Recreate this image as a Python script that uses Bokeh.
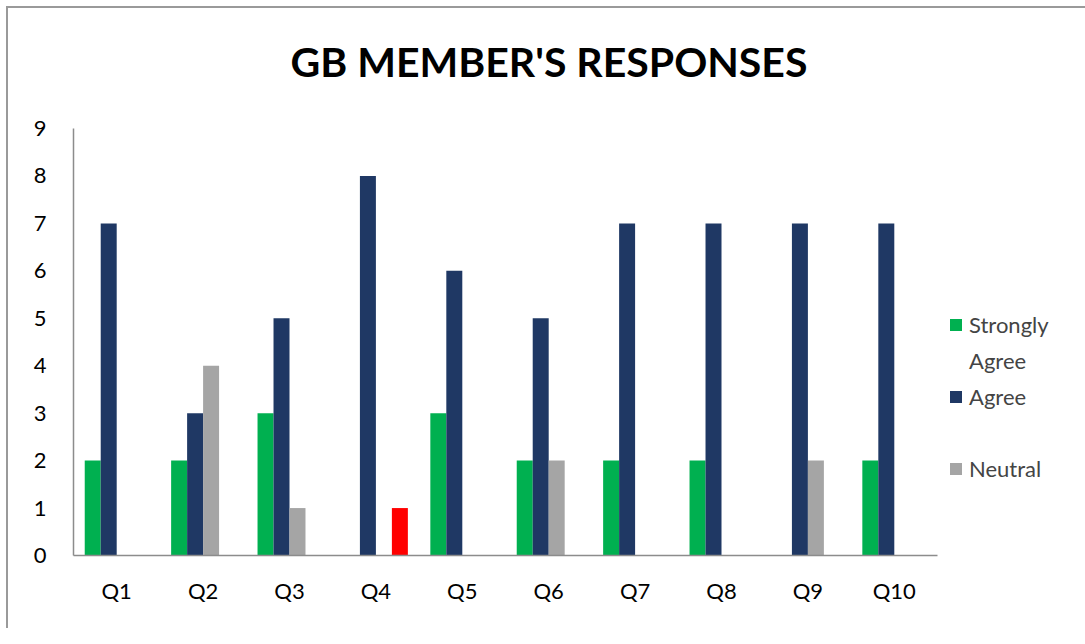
from bokeh.plotting import figure
from bokeh.models import Legend, LegendItem, FactorRange, Title
from bokeh.transform import dodge
from bokeh.embed import file_html
from bokeh.resources import INLINE
from bokeh.models import ColumnDataSource

categories = ["Q1", "Q2", "Q3", "Q4", "Q5", "Q6", "Q7", "Q8", "Q9", "Q10"]
strongly_agree = [2, 2, 3, 0, 3, 2, 2, 2, 0, 2]
agree = [7, 3, 5, 8, 6, 5, 7, 7, 7, 7]
neutral = [0, 4, 1, 0, 0, 2, 0, 0, 2, 0]
disagree = [0, 0, 0, 1, 0, 0, 0, 0, 0, 0]
y_ticks = [0, 1, 2, 3, 4, 5, 6, 7, 8, 9]

source = ColumnDataSource(dict(cat=categories, sa=strongly_agree, ag=agree,
                               ne=neutral, di=disagree))

FONT = "Lato"

p = figure(x_range=FactorRange(*categories, range_padding=0), y_range=(0, 9),
           frame_width=864, frame_height=427, output_backend="svg",
           toolbar_location=None, title=None,
           min_border_left=65, min_border_right=130, min_border_top=120,
           min_border_bottom=73)
p.styles = {"border-top": "2px solid #9a9a9a", "border-left": "2px solid #9a9a9a",
            "margin-left": "6px", "margin-top": "6px"}

w = 0.185
r_sa = p.vbar(x=dodge("cat", -1.5 * w, range=p.x_range), top="sa", width=w,
              source=source, fill_color="#00B050", line_color=None)
r_ag = p.vbar(x=dodge("cat", -0.5 * w, range=p.x_range), top="ag", width=w,
              source=source, fill_color="#1F3864", line_color=None)
r_ne = p.vbar(x=dodge("cat", 0.5 * w, range=p.x_range), top="ne", width=w,
              source=source, fill_color="#A5A5A5", line_color=None)
r_di = p.vbar(x=dodge("cat", 1.5 * w, range=p.x_range), top="di", width=w,
              source=source, fill_color="#FF0000", line_color=None)
r_blank = p.vbar(x=[], top=[], width=w, fill_alpha=0, line_alpha=0)

# spacer between frame and title (closest to frame), then the title itself
p.add_layout(Title(text=" ", text_font_size="1px", standoff=40), "above")
p.add_layout(Title(text="GB MEMBER'S RESPONSES", align="left", offset=217,
                   text_font=FONT, text_font_size="41px", text_font_style="bold",
                   text_color="#000000", standoff=0), "above")

p.xgrid.visible = False
p.ygrid.visible = False
p.outline_line_color = None

for ax in (p.xaxis[0], p.yaxis[0]):
    ax.axis_line_color = "#8c8c8c"
    ax.axis_line_width = 1.5
    ax.major_tick_line_color = None
    ax.minor_tick_line_color = None
    ax.major_label_text_font = FONT
    ax.major_label_text_font_size = "22px"
    ax.major_label_text_color = "#000000"
p.yaxis.ticker = y_ticks
p.yaxis.major_label_standoff = 21
p.xaxis.major_label_standoff = 15

legend = Legend(items=[
    LegendItem(label="Strongly", renderers=[r_sa]),
    LegendItem(label="Agree", renderers=[r_blank]),
    LegendItem(label="Agree", renderers=[r_ag]),
    LegendItem(label=" ", renderers=[r_blank]),
    LegendItem(label="Neutral", renderers=[r_ne]),
], location=(11, 73), border_line_color=None, background_fill_alpha=0,
    label_text_font=FONT, label_text_font_size="22px", glyph_width=15,
    glyph_height=15, label_height=27, label_standoff=6, spacing=9,
    padding=0, margin=0)
p.add_layout(legend, "right")

open("out.html", "w").write(file_html(p, INLINE))
